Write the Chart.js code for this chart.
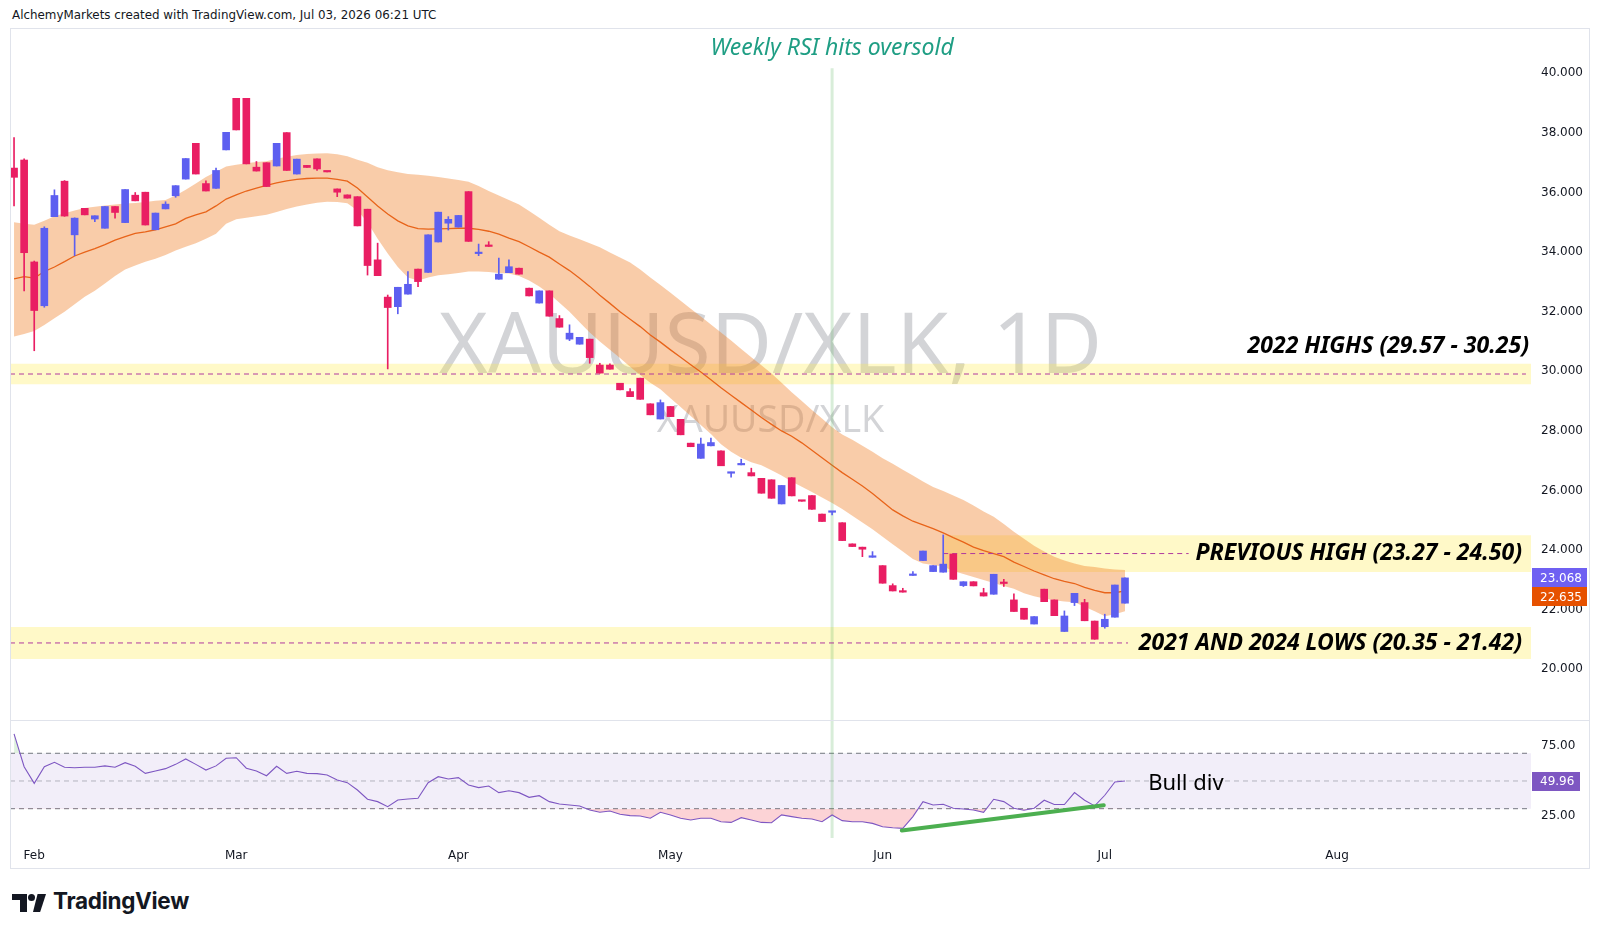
<!DOCTYPE html>
<html>
<head>
<meta charset="utf-8">
<script src="https://cdn.jsdelivr.net/npm/chart.js@4.4.1/dist/chart.umd.min.js"></script>
<style>
  html, body { margin:0; padding:0; background:#ffffff; }
  body { width:1600px; height:936px; position:relative; overflow:hidden; }
  #hdr { position:absolute; left:12px; top:8px; font:11.9px "DejaVu Sans", sans-serif; color:#131722; white-space:nowrap; }
  .pane { position:absolute; left:10px; width:1580px; }
  #mainPane { top:28px; height:692px; }
  #rsiPane { top:721px; height:148px; }
  #sep { position:absolute; left:10px; top:720px; width:1580px; height:1px; background:#e0e3eb; }
  #frame { position:absolute; left:10px; top:28px; width:1580px; height:841px; border:1px solid #e0e3eb; box-sizing:border-box; pointer-events:none; }
  #logo { position:absolute; left:12px; top:892px; height:22px; width:220px; }
  #logo .b { position:absolute; background:#131722; }
  #logo .t { position:absolute; left:41px; top:-5px; font:700 22.5px "Inter", sans-serif; color:#131722; letter-spacing:-0.3px; }
</style>
</head>
<body>
<div id="hdr">AlchemyMarkets created with TradingView.com, Jul 03, 2026 06:21 UTC</div>
<div id="sep"></div>
<div class="pane" id="mainPane"><canvas id="mainChart"></canvas></div>
<div class="pane" id="rsiPane"><canvas id="rsiChart"></canvas></div>
<div id="frame"></div>
<div id="logo">
  <div class="b" style="left:0;top:2px;width:15px;height:6px"></div>
  <div class="b" style="left:8px;top:2px;width:7px;height:18px"></div>
  <div class="b" style="left:16px;top:2px;width:7px;height:7px;border-radius:50%"></div>
  <div class="b" style="left:21px;top:2px;width:13px;height:18px;clip-path:polygon(35% 0,100% 0,55% 100%,0 100%)"></div>
  <span class="t">TradingView</span>
</div>
<script>
// ---------------- DATA ----------------
const open = [36.82,37.09,33.67,32.20,35.19,36.38,34.58,35.47,35.11,34.80,
35.53,34.99,35.91,36.01,34.75,35.45,35.89,36.45,37.65,36.30,
36.14,37.43,39.16,39.16,36.85,37.00,36.89,38.01,36.62,36.91,
37.13,36.71,36.12,35.92,35.86,35.44,33.74,32.49,32.17,32.59,
33.43,33.32,34.34,34.97,34.84,36.03,33.95,34.21,33.09,33.31,
33.46,32.79,32.29,32.70,31.77,31.08,30.91,31.08,30.21,30.21,
29.60,29.32,29.77,28.91,28.40,28.82,28.39,27.59,27.08,27.50,
27.33,26.58,26.86,26.60,26.41,26.36,25.55,26.43,25.66,25.83,
25.21,25.27,24.92,24.21,24.10,23.76,23.48,22.81,22.63,23.15,
23.65,23.28,23.26,23.87,22.81,22.94,22.57,22.52,22.90,22.33,
22.05,21.52,22.69,22.33,21.27,22.24,22.24,21.62,21.43,21.75,
22.22];
const close = [36.51,33.98,32.04,34.80,35.90,35.21,35.14,35.25,35.22,35.53,
35.33,36.10,35.72,34.91,35.31,35.61,36.23,37.14,36.62,36.05,
36.74,38.02,38.10,36.96,36.72,36.20,37.65,36.74,37.12,36.84,
36.79,36.69,36.01,35.81,34.88,33.55,33.21,32.14,32.82,32.92,
33.01,34.58,35.34,35.10,35.23,34.36,33.99,34.19,33.26,33.51,
33.26,32.53,32.70,31.85,31.48,31.28,31.14,30.46,29.94,30.07,
29.38,29.15,29.06,28.54,28.95,28.48,27.87,27.47,27.56,27.61,
26.83,26.62,26.90,26.49,25.91,25.74,26.17,25.82,25.64,25.37,
24.96,25.30,24.32,24.12,24.03,23.79,22.89,22.63,22.59,23.18,
23.97,23.48,23.53,23.02,22.94,22.80,22.46,23.19,22.88,21.94,
21.68,21.77,22.27,21.80,21.79,22.55,21.63,21.01,21.68,22.83,
23.068];
const high = [37.84,37.13,33.70,34.85,36.09,36.40,35.15,35.47,35.22,35.53,
35.53,36.10,36.00,36.01,35.31,35.69,36.23,37.14,37.65,36.39,
36.82,38.02,39.16,39.16,37.04,37.00,37.65,38.01,37.12,36.91,
37.13,36.71,36.12,35.92,35.86,35.44,34.30,32.56,32.82,33.35,
33.43,34.58,35.34,35.19,35.23,36.03,34.27,34.35,33.80,33.74,
33.46,32.79,32.70,32.70,31.87,31.56,31.14,31.08,30.27,30.25,
29.60,29.42,29.77,28.91,29.04,28.82,28.39,27.59,27.76,27.76,
27.33,26.62,27.05,26.75,26.41,26.36,26.17,26.43,25.66,25.83,
25.21,25.30,24.92,24.21,24.10,23.95,23.48,22.87,22.72,23.28,
23.97,23.48,24.51,23.87,22.94,22.94,22.72,23.19,23.02,22.53,
22.05,21.77,22.69,22.33,21.96,22.55,22.35,21.62,21.85,22.83,
23.068];
const low = [35.55,32.70,30.69,32.15,35.19,35.20,33.88,35.25,35.02,34.80,
35.14,34.99,35.72,34.91,34.75,35.45,35.84,36.45,36.62,36.05,
36.14,37.43,38.10,36.96,36.72,36.20,36.89,36.74,36.62,36.84,
36.74,36.69,35.86,35.81,34.88,33.23,33.21,30.08,31.93,32.59,
32.84,33.32,34.34,34.74,34.84,34.36,33.88,34.19,33.09,33.31,
33.26,32.53,32.29,31.85,31.48,31.03,30.91,30.27,29.94,30.07,
29.38,29.15,29.06,28.54,28.40,28.48,27.87,27.47,27.08,27.50,
26.83,26.45,26.86,26.49,25.91,25.74,25.55,25.82,25.64,25.37,
24.96,25.18,24.32,24.12,23.78,23.76,22.89,22.63,22.59,23.15,
23.65,23.28,23.26,23.02,22.78,22.80,22.46,22.52,22.78,21.94,
21.68,21.52,22.27,21.80,21.27,22.14,21.63,21.01,21.38,21.75,
22.22];
const bandUpper = [35.00,34.95,34.92,35.05,35.20,35.30,35.40,35.48,35.52,35.56,
35.60,35.63,35.65,35.68,35.72,35.75,35.90,36.09,36.30,36.52,
36.70,36.87,36.93,36.98,37.02,37.05,37.13,37.20,37.26,37.29,
37.31,37.32,37.28,37.22,37.10,37.00,36.85,36.75,36.68,36.62,
36.60,36.56,36.52,36.47,36.42,36.36,36.22,36.05,35.90,35.75,
35.60,35.38,35.15,34.92,34.70,34.56,34.43,34.30,34.16,33.99,
33.82,33.65,33.42,33.15,32.90,32.64,32.37,32.10,31.84,31.57,
31.30,31.03,30.75,30.47,30.20,29.93,29.62,29.30,29.00,28.70,
28.42,28.12,27.88,27.70,27.50,27.30,27.08,26.90,26.70,26.50,
26.30,26.12,25.98,25.83,25.68,25.50,25.30,25.12,24.88,24.62,
24.38,24.15,23.95,23.78,23.65,23.55,23.47,23.43,23.38,23.35,
23.33];
const bandMiddle = [33.10,33.18,33.13,33.35,33.50,33.68,33.87,34.00,34.12,34.25,
34.40,34.52,34.63,34.68,34.75,34.85,34.95,35.13,35.25,35.35,
35.55,35.78,35.92,36.05,36.15,36.24,36.32,36.39,36.44,36.47,
36.48,36.48,36.44,36.38,36.15,35.85,35.55,35.28,35.05,34.88,
34.79,34.77,34.78,34.79,34.80,34.80,34.76,34.70,34.60,34.47,
34.35,34.18,34.00,33.83,33.60,33.38,33.12,32.85,32.55,32.28,
32.00,31.75,31.50,31.22,30.98,30.72,30.47,30.22,29.98,29.72,
29.45,29.20,28.95,28.70,28.45,28.22,28.00,27.82,27.60,27.35,
27.10,26.85,26.60,26.38,26.15,25.90,25.62,25.35,25.15,24.97,
24.85,24.72,24.58,24.42,24.27,24.10,23.98,23.88,23.78,23.60,
23.45,23.30,23.17,23.04,22.95,22.88,22.75,22.65,22.57,22.57,
22.635];
const bandLower = [31.17,31.25,31.35,31.55,31.78,32.00,32.25,32.50,32.70,32.95,
33.20,33.42,33.55,33.68,33.78,33.90,34.05,34.18,34.30,34.45,
34.62,34.95,35.10,35.15,35.20,35.25,35.35,35.45,35.53,35.60,
35.66,35.69,35.68,35.64,35.40,35.00,34.45,33.95,33.50,33.15,
33.05,33.15,33.22,33.26,33.30,33.35,33.35,33.33,33.30,33.28,
33.20,33.05,32.85,32.60,32.30,32.00,31.65,31.30,31.00,30.72,
30.45,30.15,29.88,29.62,29.40,29.10,28.80,28.50,28.20,27.90,
27.55,27.30,27.10,26.95,26.85,26.68,26.50,26.30,26.13,25.95,
25.77,25.58,25.38,25.15,24.93,24.70,24.45,24.20,23.95,23.70,
23.55,23.50,23.45,23.30,23.20,23.10,23.00,22.90,22.80,22.70,
22.55,22.45,22.38,22.32,22.28,22.25,22.10,21.95,21.78,21.85,
21.95];
const rsi = [84.0,60.3,48.3,60.3,63.5,59.9,59.6,59.9,59.9,60.9,
59.9,63.2,60.6,55.5,57.2,58.9,62.0,65.9,62.0,57.9,
60.9,66.4,66.8,59.2,57.2,53.8,60.6,55.5,57.0,55.5,
55.3,54.3,50.7,48.8,43.5,36.8,35.1,31.5,36.3,37.0,
37.5,48.8,53.1,51.4,52.4,47.1,45.2,46.4,41.6,43.0,
41.6,38.2,39.4,35.1,33.4,32.7,32.0,29.1,27.4,28.3,
26.0,25.0,24.7,23.1,27.4,25.5,23.1,21.8,23.1,23.1,
20.6,20.1,23.5,21.8,20.1,19.9,25.5,24.3,23.1,22.6,
20.6,25.5,21.4,20.6,20.6,19.4,17.0,16.3,15.8,24.3,
35.1,32.7,33.2,30.3,29.8,29.1,27.4,36.8,35.1,30.3,
28.9,30.3,36.1,33.0,33.0,41.6,36.1,32.0,39.7,49.3,
49.96];

const monthLabels   = ['Feb','Mar','Apr','May','Jun','Jul','Aug'];
const monthBarIndex = [2, 22, 44, 65, 86, 108, 131];
const priceTicks    = [20,22,24,26,28,30,32,34,36,38,40];
const rsiTicks      = [25, 75];
const rsiLevels     = [30, 50, 70];

const zoneHighs2022 = [29.57, 30.25];
const zonePrevHigh  = [23.27, 24.50];
const zoneLows      = [20.35, 21.42];
const prevHighStartBar = 92;
const labelHighs2022 = '2022 HIGHS (29.57 - 30.25)';
const labelPrevHigh  = 'PREVIOUS HIGH (23.27 - 24.50)';
const labelLows      = '2021 AND 2024 LOWS (20.35 - 21.42)';
const highsLabelLevel = 30.82;

const oversoldBar   = 81;
const oversoldTop   = 40.17;
const titleText     = 'Weekly RSI hits oversold';
const titleLevel    = 40.82;

const divStartBar = 87.9, divStartRsi = 14.2;
const divEndBar   = 107.9, divEndRsi  = 32.5;
const bullDivText = 'Bull div';
const bullDivBar  = 112.3, bullDivRsi = 47.8;

const watermarkMain = 'XAUUSD/XLK, 1D';
const watermarkSub  = 'XAUUSD/XLK';

// ---------------- LAYOUT / STYLE ----------------
const X_MIN = -0.4, X_MAX = 150.2;
const P_MIN = 18.30, P_MAX = 41.52;
const R_MIN = 8.85, R_MAX = 93.3;
const UP = '#5d5ff0', DOWN = '#e91e63';
const AXIS_W = 59;
const axisFont = {family:'DejaVu Sans', size:12};

const pts = arr => arr.map((v,i)=>({x:i, y:v}));
const mid = r => (r[0]+r[1])/2;
const candleColor = close.map((c,i)=> c >= open[i] ? UP : DOWN);
const last = close.length - 1;

function zoneDS(r, x0, x1){
  return {type:'line', data:[{x:x0,y:r[1]},{x:x1,y:r[1]}], borderWidth:0, pointRadius:0,
    fill:{target:{value:r[0]}}, backgroundColor:'rgba(255,235,59,0.28)', order:30};
}
function dashDS(r, x0, x1){
  const m = mid(r);
  return {type:'line', data:[{x:x0,y:m},{x:x1,y:m}], borderColor:'#b03a9e', borderWidth:1,
    borderDash:[5,4], pointRadius:0, fill:false, order:6};
}

const mainDatasets = [];
mainDatasets.push(zoneDS(zoneHighs2022, X_MIN, X_MAX));
mainDatasets.push(zoneDS(zonePrevHigh, prevHighStartBar, X_MAX));
mainDatasets.push(zoneDS(zoneLows, X_MIN, X_MAX));
const upperIdx = mainDatasets.length;
mainDatasets.push({type:'line', data:pts(bandUpper), borderWidth:0, pointRadius:0, fill:false, order:20});
mainDatasets.push({type:'line', data:pts(bandLower), borderWidth:0, pointRadius:0, fill:upperIdx,
  backgroundColor:'rgba(240,120,30,0.38)', order:19});
mainDatasets.push({type:'line', data:pts(bandMiddle), borderColor:'#e8641a', borderWidth:1.3, pointRadius:0, fill:false, order:18});
mainDatasets.push({type:'line', data:[{x:oversoldBar,y:P_MIN},{x:oversoldBar,y:oversoldTop}],
  borderColor:'rgba(76,175,80,0.22)', borderWidth:3, pointRadius:0, fill:false, order:17});
mainDatasets.push(dashDS(zoneHighs2022, X_MIN, 149.7));
mainDatasets.push(dashDS(zonePrevHigh, prevHighStartBar, 116.3));
mainDatasets.push(dashDS(zoneLows, X_MIN, 110.3));
mainDatasets.push({type:'bar', data:open.map((_,i)=>({x:i, y:[low[i], high[i]]})),
  backgroundColor:candleColor, barThickness:1, grouped:false, order:2});
mainDatasets.push({type:'bar', data:open.map((o,i)=>({x:i, y:[Math.min(o,close[i]), Math.max(o,close[i])]})),
  backgroundColor:candleColor, barThickness:7, minBarLength:1.5, grouped:false, order:1});

function drawBox(ctx, x, yc, w, h, color, text){
  ctx.fillStyle = color;
  ctx.fillRect(x, Math.round(yc - h/2), w, h);
  ctx.fillStyle = '#ffffff';
  ctx.font = '12px "DejaVu Sans"';
  ctx.textAlign = 'left'; ctx.textBaseline = 'middle';
  ctx.fillText(text, x + 8, yc + 0.5);
}

const mainPlugin = {
  id:'mainNotes',
  beforeDatasetsDraw(chart){
    const {ctx, chartArea:a} = chart;
    ctx.save();
    ctx.fillStyle = 'rgba(120,123,134,0.33)';
    ctx.textAlign = 'center'; ctx.textBaseline = 'alphabetic';
    const cx = (a.left + a.right)/2;
    ctx.font = '84px "Noto Sans"';
    ctx.fillText(watermarkMain, cx, 345);
    ctx.font = '37.5px "Noto Sans"';
    ctx.fillText(watermarkSub, cx, 404);
    ctx.restore();
  },
  afterDatasetsDraw(chart){
    const {ctx, chartArea:a, scales:{x, y}} = chart;
    ctx.save();
    ctx.font = 'italic 23px "Noto Sans"';
    ctx.fillStyle = '#1f9e84';
    ctx.textAlign = 'center'; ctx.textBaseline = 'middle';
    ctx.fillText(titleText, x.getPixelForValue(oversoldBar), y.getPixelForValue(titleLevel));
    ctx.font = 'italic bold 23px "Noto Sans"';
    ctx.fillStyle = '#000000';
    ctx.textAlign = 'right';
    ctx.fillText(labelHighs2022, a.right - 2, y.getPixelForValue(highsLabelLevel));
    ctx.fillText(labelPrevHigh, a.right - 9, y.getPixelForValue(mid(zonePrevHigh)));
    ctx.fillText(labelLows, a.right - 9, y.getPixelForValue(mid(zoneLows)));
    ctx.restore();
  },
  afterDraw(chart){
    const {ctx, scales:{y}} = chart;
    ctx.save();
    const h = 19;
    const y1 = y.getPixelForValue(close[last]);
    const y2 = Math.max(y.getPixelForValue(bandMiddle[last]), y1 + h);
    drawBox(ctx, y.left + 1, y1, 55, h, '#6f60f2', close[last].toFixed(3));
    drawBox(ctx, y.left + 1, y2, 55, h, '#e65100', bandMiddle[last].toFixed(3));
    ctx.restore();
  }
};

new Chart(document.getElementById('mainChart'), {
  type:'bar',
  data:{datasets:mainDatasets},
  options:{
    responsive:true, maintainAspectRatio:false, animation:false, devicePixelRatio:1, events:[],
    layout:{padding:0},
    plugins:{legend:{display:false}, tooltip:{enabled:false}},
    scales:{
      x:{type:'linear', min:X_MIN, max:X_MAX, offset:false, display:false},
      y:{type:'linear', position:'right', min:P_MIN, max:P_MAX, beginAtZero:false,
        grid:{display:false, drawTicks:false}, border:{display:false},
        ticks:{padding:10, color:'#131722', font:axisFont, callback:v=>Number(v).toFixed(3)},
        afterBuildTicks:s=>{ s.ticks = priceTicks.map(v=>({value:v})); },
        afterFit:s=>{ s.width = AXIS_W; s.paddingTop = 0; s.paddingBottom = 0; }
      }
    }
  },
  plugins:[mainPlugin]
});

// ---------------- RSI PANE ----------------
const rsiDatasets = [];
rsiDatasets.push({type:'line', data:[{x:X_MIN,y:rsiLevels[2]},{x:X_MAX,y:rsiLevels[2]}], borderWidth:0, pointRadius:0,
  fill:{target:{value:rsiLevels[0]}}, backgroundColor:'rgba(126,87,194,0.10)', order:30});
rsiLevels.forEach((lv,k)=>{
  rsiDatasets.push({type:'line', data:[{x:X_MIN,y:lv},{x:X_MAX,y:lv}], pointRadius:0, fill:false,
    borderColor: k===1 ? 'rgba(120,123,134,0.5)' : 'rgba(110,112,122,0.95)', borderWidth:1, borderDash:[5,4], order:25});
});
rsiDatasets.push({type:'line', data:[{x:oversoldBar,y:R_MIN},{x:oversoldBar,y:R_MAX}],
  borderColor:'rgba(76,175,80,0.22)', borderWidth:3, pointRadius:0, fill:false, order:20});
rsiDatasets.push({type:'line', data:pts(rsi), borderWidth:0, pointRadius:0,
  fill:{target:{value:rsiLevels[2]}, above:'rgba(76,175,80,0.18)', below:'rgba(0,0,0,0)'}, order:11});
rsiDatasets.push({type:'line', data:pts(rsi), borderColor:'#7e57c2', borderWidth:1.1, pointRadius:0,
  fill:{target:{value:rsiLevels[0]}, above:'rgba(0,0,0,0)', below:'rgba(242,54,69,0.22)'}, order:10});
rsiDatasets.push({type:'line', data:[{x:divStartBar,y:divStartRsi},{x:divEndBar,y:divEndRsi}],
  borderColor:'#4caf50', borderWidth:4, pointRadius:0, fill:false, order:5, borderCapStyle:'round'});

const rsiPlugin = {
  id:'rsiNotes',
  afterDatasetsDraw(chart){
    const {ctx, scales:{x, y}} = chart;
    ctx.save();
    ctx.font = '22px "Noto Sans"';
    ctx.fillStyle = '#000000';
    ctx.textAlign = 'left'; ctx.textBaseline = 'middle';
    ctx.fillText(bullDivText, x.getPixelForValue(bullDivBar), y.getPixelForValue(bullDivRsi));
    ctx.restore();
  },
  afterDraw(chart){
    const {ctx, scales:{y}} = chart;
    ctx.save();
    drawBox(ctx, y.left + 1, y.getPixelForValue(rsi[last]), 48, 19, '#7e57c2', rsi[last].toFixed(2));
    ctx.restore();
  }
};

new Chart(document.getElementById('rsiChart'), {
  type:'line',
  data:{datasets:rsiDatasets},
  options:{
    responsive:true, maintainAspectRatio:false, animation:false, devicePixelRatio:1, events:[],
    layout:{padding:0},
    plugins:{legend:{display:false}, tooltip:{enabled:false}},
    scales:{
      x:{type:'linear', min:X_MIN, max:X_MAX, offset:false,
        grid:{display:false, drawTicks:false}, border:{display:false},
        ticks:{padding:11, color:'#131722', font:{family:'DejaVu Sans', size:12}, autoSkip:false, maxRotation:0,
          callback:(v,i)=>monthLabels[i]},
        afterBuildTicks:s=>{ s.ticks = monthBarIndex.map(v=>({value:v})); },
        afterFit:s=>{ s.height = 31; s.paddingLeft = 0; s.paddingRight = 0; }
      },
      y:{type:'linear', position:'right', min:R_MIN, max:R_MAX,
        grid:{display:false, drawTicks:false}, border:{display:false},
        ticks:{padding:10, color:'#131722', font:axisFont, callback:v=>Number(v).toFixed(2)},
        afterBuildTicks:s=>{ s.ticks = rsiTicks.map(v=>({value:v})); },
        afterFit:s=>{ s.width = AXIS_W; s.paddingTop = 0; s.paddingBottom = 0; }
      }
    }
  },
  plugins:[rsiPlugin]
});
</script>
</body>
</html>
